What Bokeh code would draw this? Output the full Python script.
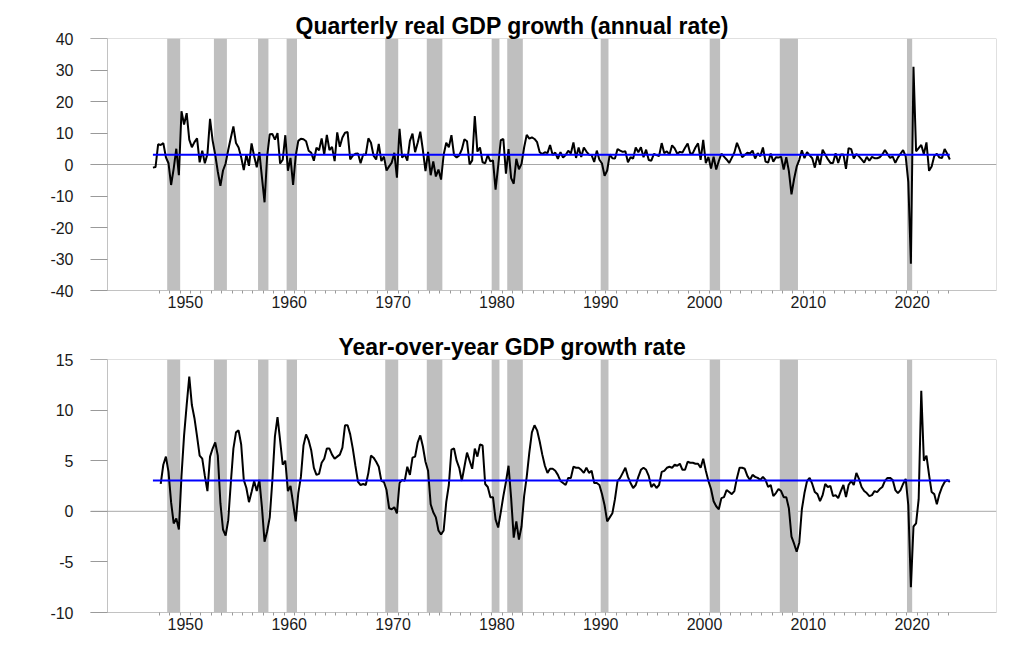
from bokeh.plotting import figure
from bokeh.models import Span, FixedTicker, Range1d, ColumnDataSource, Title
from bokeh.layouts import column
from bokeh.embed import file_html
from bokeh.resources import INLINE

# ---------------- data ----------------
q_start = (1947, 2)   # first quarter of quarterly growth series
quarterly_growth = [
    -1.0, -0.8, 6.4,                 # 1947 Q2-Q4
    6.2, 6.8, 2.3, 0.4,              # 1948
    -6.5, -1.3, 5.0, -3.4,           # 1949
    16.9, 12.7, 16.3, 7.9,           # 1950
    5.5, 7.1, 8.3, 0.7,              # 1951
    4.4, 0.4, 3.3, 14.5,             # 1952
    7.6, 3.1, -2.3, -6.8,            # 1953
    -1.9, 0.3, 4.6, 8.4,             # 1954
    12.1, 6.8, 5.4, 2.3,             # 1955
    -1.8, 3.2, -0.4, 6.7,            # 1956
    2.6, -0.9, 3.9, -4.1,            # 1957
    -12.0, 2.6, 9.6, 9.7,            # 1958
    7.9, 10.0, 0.3, 1.5,             # 1959
    9.3, -2.0, 2.1, -6.5,            # 1960
    2.7, 7.5, 8.2, 8.0,              # 1961
    7.4, 4.4, 3.7, 1.2,              # 1962
    5.3, 4.5, 8.3, 3.1,              # 1963
    9.4, 4.6, 5.6, 1.1,              # 1964
    10.2, 5.6, 8.6, 10.1,            # 1965
    10.3, 1.6, 2.8, 3.4,             # 1966
    3.5, 0.4, 3.2, 3.1,              # 1967
    8.3, 6.9, 2.8, 1.6,              # 1968
    6.5, 1.1, 2.5, -1.9,             # 1969
    -0.6, 0.6, 3.7, -4.2,            # 1970
    11.3, 2.2, 3.2, 1.2,             # 1971
    7.5, 9.8, 3.9, 6.9,              # 1972
    10.4, 4.6, -2.1, 4.0,            # 1973
    -3.4, 1.0, -3.8, -1.6,           # 1974
    -4.8, 3.1, 6.9, 5.5,             # 1975
    9.3, 3.0, 2.2, 2.9,              # 1976
    4.8, 8.0, 7.4, 0.0,              # 1977
    1.3, 15.4, 4.1, 5.4,             # 1978
    0.7, 0.4, 3.0, 1.0,              # 1979
    1.3, -8.0, -0.5, 7.7,            # 1980
    8.1, -2.9, 4.9, -4.3,            # 1981
    -6.1, 1.8, -1.5, 0.2,            # 1982
    5.4, 9.4, 8.2, 8.6,              # 1983
    8.1, 7.1, 3.9, 3.3,              # 1984
    3.9, 3.6, 6.2, 3.0,              # 1985
    3.8, 1.8, 3.9, 2.2,              # 1986
    3.0, 4.4, 3.5, 7.0,              # 1987
    2.1, 5.4, 2.4, 5.4,              # 1988
    4.1, 3.1, 3.0, 0.8,              # 1989
    4.4, 1.5, 0.3, -3.6,             # 1990
    -1.9, 3.2, 2.0, 1.9,             # 1991
    4.9, 4.4, 4.0, 4.2,              # 1992
    0.7, 2.3, 1.9, 5.4,              # 1993
    3.9, 5.5, 2.3, 4.7,              # 1994
    1.4, 1.2, 3.4, 3.0,              # 1995
    2.7, 6.8, 3.6, 4.2,              # 1996
    3.1, 6.1, 5.1, 3.4,              # 1997
    4.0, 3.8, 5.3, 6.7,              # 1998
    3.5, 3.6, 5.4, 6.7,              # 1999
    1.5, 7.8, 0.4, 2.4,              # 2000
    -1.3, 2.5, -1.6, 1.1,            # 2001
    3.4, 2.5, 1.6, 0.5,              # 2002
    2.1, 3.8, 6.9, 4.8,              # 2003
    2.3, 3.0, 3.7, 3.5,              # 2004
    4.4, 1.9, 3.6, 2.6,              # 2005
    5.4, 0.9, 0.6, 3.5,              # 2006
    0.9, 2.3, 2.2, 2.5,              # 2007
    -1.6, 2.3, -2.1, -9.5,           # 2008
    -4.6, -0.7, 1.5, 4.5,            # 2009
    2.0, 3.9, 2.9, 2.0,              # 2010
    -1.0, 2.9, -0.1, 4.7,            # 2011
    3.2, 1.7, 0.5, 0.5,              # 2012
    3.6, 0.5, 3.2, 3.2,              # 2013
    -1.4, 5.2, 4.9, 1.9,             # 2014
    3.3, 2.6, 1.6, 0.6,              # 2015
    2.4, 1.2, 2.4, 2.0,              # 2016
    2.0, 2.3, 3.2, 4.6,              # 2017
    3.3, 2.1, 2.5, 0.5,              # 2018
    2.2, 3.4, 4.6, 2.6,              # 2019
    -5.5, -31.5, 31.0, 4.2,          # 2020
    5.2, 6.2, 3.3, 7.0,              # 2021
    -2.0, -0.6, 2.7, 3.4,            # 2022
    2.2, 2.1, 4.9, 3.4,              # 2023
    1.6,                             # 2024 Q1
]

y_start = (1948, 1)   # first quarter of year-over-year series
yoy_growth = [
    2.7, 4.6, 5.4, 3.9,              # 1948
    0.9, -1.2, -0.7, -1.8,           # 1949
    3.5, 7.5, 10.5, 13.3,            # 1950
    10.5, 9.2, 7.4, 5.5,             # 1951
    5.2, 3.5, 2.0, 5.4,              # 1952
    6.2, 6.8, 5.5, 0.8,              # 1953
    -1.8, -2.4, -0.9, 2.8,           # 1954
    6.2, 7.8, 8.0, 6.6,              # 1955
    3.1, 2.3, 0.9, 1.9,              # 1956
    3.0, 2.0, 3.1, 0.4,              # 1957
    -3.0, -2.0, -0.6, 3.0,           # 1958
    7.4, 9.3, 7.0, 4.6,              # 1959
    5.0, 2.0, 2.5, 0.8,              # 1960
    -1.0, 1.8, 3.4, 6.5,             # 1961
    7.6, 7.0, 6.0, 4.3,              # 1962
    3.6, 3.7, 4.8, 5.2,              # 1963
    6.2, 6.2, 5.6, 5.2,              # 1964
    5.4, 5.6, 6.3, 8.5,              # 1965
    8.5, 7.6, 6.2, 4.5,              # 1966
    2.9, 2.6, 2.7, 2.6,              # 1967
    3.8, 5.5, 5.3, 4.9,              # 1968
    4.4, 3.0, 2.9, 2.1,              # 1969
    0.3, 0.2, 0.4, -0.2,             # 1970
    2.8, 3.1, 3.0, 4.4,              # 1971
    3.6, 5.3, 5.4, 6.8,              # 1972
    7.5, 6.4, 4.9, 4.0,              # 1973
    0.7, -0.1, -0.6, -1.9,           # 1974
    -2.3, -1.9, 0.9, 2.6,            # 1975
    6.1, 6.2, 5.0, 4.3,              # 1976
    3.0, 4.4, 5.8, 5.0,              # 1977
    4.2, 6.2, 5.4, 6.6,              # 1978
    6.5, 2.7, 2.4, 1.4,              # 1979
    1.4, -0.8, -1.6, -0.1,           # 1980
    1.5, 2.9, 4.5, 1.3,              # 1981
    -2.6, -1.0, -2.8, -1.5,          # 1982
    1.5, 3.4, 5.8, 7.8,              # 1983
    8.5, 8.0, 6.9, 5.6,              # 1984
    4.5, 3.8, 4.2, 4.2,              # 1985
    4.0, 3.6, 3.0, 2.8,              # 1986
    2.6, 3.3, 3.3, 4.4,              # 1987
    4.3, 4.3, 4.1, 3.8,              # 1988
    4.3, 3.8, 4.0, 2.8,              # 1989
    2.8, 2.6, 1.7, 0.6,              # 1990
    -1.0, -0.6, -0.2, 1.2,           # 1991
    3.0, 3.3, 3.8, 4.3,              # 1992
    3.4, 2.8, 2.3, 2.6,              # 1993
    3.4, 4.1, 4.3, 4.1,              # 1994
    3.5, 2.4, 2.7, 2.3,              # 1995
    2.6, 3.9, 4.0, 4.3,              # 1996
    4.4, 4.3, 4.6, 4.5,              # 1997
    4.7, 4.1, 4.1, 4.9,              # 1998
    4.8, 4.8, 4.7, 4.7,              # 1999
    4.3, 5.2, 4.0, 3.0,              # 2000
    2.2, 1.0, 0.5, 0.2,              # 2001
    1.3, 1.4, 2.1, 1.9,              # 2002
    1.7, 2.0, 3.3, 4.3,              # 2003
    4.3, 4.2, 3.5, 3.1,              # 2004
    3.6, 3.4, 3.3, 3.1,              # 2005
    3.4, 3.1, 2.4, 2.6,              # 2006
    1.5, 1.8, 2.2, 2.0,              # 2007
    1.4, 1.4, 0.3, -2.5,             # 2008
    -3.2, -4.0, -3.1, 0.2,           # 2009
    1.8, 3.0, 3.3, 2.7,              # 2010
    1.9, 1.7, 1.0, 1.6,              # 2011
    2.7, 2.4, 2.5, 1.5,              # 2012
    1.6, 1.3, 2.0, 2.6,              # 2013
    1.4, 2.6, 3.0, 2.6,              # 2014
    3.8, 3.2, 2.4, 2.0,              # 2015
    1.8, 1.5, 1.6, 2.0,              # 2016
    1.9, 2.2, 2.4, 3.0,              # 2017
    3.3, 3.3, 3.1, 2.1,              # 2018
    1.8, 2.1, 2.7, 3.2,              # 2019
    0.6, -7.5, -1.5, -1.2,           # 2020
    1.2, 11.9, 5.0, 5.5,             # 2021
    3.6, 1.9, 1.7, 0.7,              # 2022
    1.7, 2.4, 2.9, 3.1,              # 2023
    2.9,                             # 2024 Q1
]

q_mean = 3.1      # sample mean, quarterly annualised growth
yoy_mean = 3.05   # sample mean, year-over-year growth
mean_from = (1947, 2)
mean_to = (2024, 1)

# NBER recessions: (peak quarter, trough quarter)
recessions = [
    ((1948, 4), (1949, 4)), ((1953, 2), (1954, 2)), ((1957, 3), (1958, 2)),
    ((1960, 2), (1961, 1)), ((1969, 4), (1970, 4)), ((1973, 4), (1975, 1)),
    ((1980, 1), (1980, 3)), ((1981, 3), (1982, 4)), ((1990, 3), (1991, 1)),
    ((2001, 1), (2001, 4)), ((2007, 4), (2009, 2)), ((2020, 1), (2020, 2)),
]

decade_labels = ["1950", "1960", "1970", "1980", "1990", "2000", "2010", "2020"]

# ---------------- helpers ----------------
def qstart(yq):
    return yq[0] + (yq[1] - 1) / 4.0

def qmid(yq):
    return qstart(yq) + 0.125

def series_x(first, n):
    base = qmid(first)
    return [base + 0.25 * i for i in range(n)]

FONT = "Liberation Sans"
FRAME_COL = "#c2c2c2"
ZERO_COL = "#a8a8a8"
SHADE_COL = "#bfbfbf"
LABEL_COL = "#1a1a1a"

X0 = 1943.0 - 17 / 10.383
X1 = X0 + 906 / 10.383

rec_left = [qstart(a) for a, b in recessions]
rec_right = [qstart(b) + 0.25 for a, b in recessions]


def make_panel(title, xs, ys, mean_val, ylo, yhi, ystep, fheight, btop, bbot, toff):
    p = figure(width=1010, height=fheight + btop + bbot,
               frame_width=906, frame_height=fheight,
               x_range=Range1d(X0, X1), y_range=Range1d(ylo, yhi),
               output_backend="svg", toolbar_location=None,
               min_border_left=90, min_border_right=14,
               min_border_top=btop, min_border_bottom=bbot)
    p.title = Title(text=title, align="left", text_font=FONT,
                    text_font_size="23px", text_font_style="bold",
                    text_color="#000000", offset=toff, standoff=0)
    p.outline_line_color = None
    p.grid.visible = False
    p.background_fill_color = "white"
    p.border_fill_color = "white"

    # recession shading
    src = ColumnDataSource(dict(left=rec_left, right=rec_right))
    p.quad(left="left", right="right", bottom=ylo, top=yhi, source=src,
           fill_color=SHADE_COL, line_color=None)

    # frame pieces
    p.add_layout(Span(location=yhi, dimension="width", line_color=FRAME_COL, line_width=1))
    p.add_layout(Span(location=X1, dimension="height", line_color=FRAME_COL, line_width=1))
    p.add_layout(Span(location=1943.0, dimension="height", line_color=FRAME_COL,
                      line_width=1, level="underlay"))
    p.add_layout(Span(location=0, dimension="width", line_color=ZERO_COL,
                      line_width=1, level="underlay"))

    # data
    p.line(xs, ys, line_color="black", line_width=2)
    p.line([qmid(mean_from), qmid(mean_to)], [mean_val, mean_val],
           line_color="#0000ff", line_width=2)

    # x axis
    xa = p.xaxis[0]
    xa.ticker = FixedTicker(ticks=[int(s) + 0.5 for s in decade_labels],
                            minor_ticks=list(range(1948, 2025)))
    xa.major_label_overrides = {int(s) + 0.5: s for s in decade_labels}
    xa.axis_line_color = FRAME_COL
    xa.major_tick_line_color = None
    xa.major_tick_out = 0
    xa.major_tick_in = 0
    xa.minor_tick_line_color = "#9a9a9a"
    xa.minor_tick_out = 3
    xa.minor_tick_in = 0
    xa.major_label_standoff = 2
    xa.major_label_text_font = FONT
    xa.major_label_text_font_size = "16px"
    xa.major_label_text_color = LABEL_COL

    # y axis
    ya = p.yaxis[0]
    ticks = []
    v = ylo
    while v <= yhi + 1e-9:
        ticks.append(v)
        v += ystep
    ya.ticker = FixedTicker(ticks=ticks)
    ya.major_label_overrides = {t: str(t) for t in ticks}
    ya.axis_line_color = None
    ya.major_tick_line_color = "#9a9a9a"
    ya.major_tick_in = 17
    ya.major_tick_out = 0
    ya.minor_tick_line_color = None
    ya.major_label_standoff = 17
    ya.major_label_text_font = FONT
    ya.major_label_text_font_size = "16px"
    ya.major_label_text_color = LABEL_COL
    return p


p1 = make_panel("Quarterly real GDP growth (annual rate)",
                series_x(q_start, len(quarterly_growth)), quarterly_growth,
                q_mean, -40, 40, 10, 252, 38, 30, 205)
p2 = make_panel("Year-over-year GDP growth rate",
                series_x(y_start, len(yoy_growth)), yoy_growth,
                yoy_mean, -10, 15, 5, 253, 39, 30, 248)

layout = column(p1, p2, spacing=0)
open("out.html", "w").write(file_html(layout, INLINE))
